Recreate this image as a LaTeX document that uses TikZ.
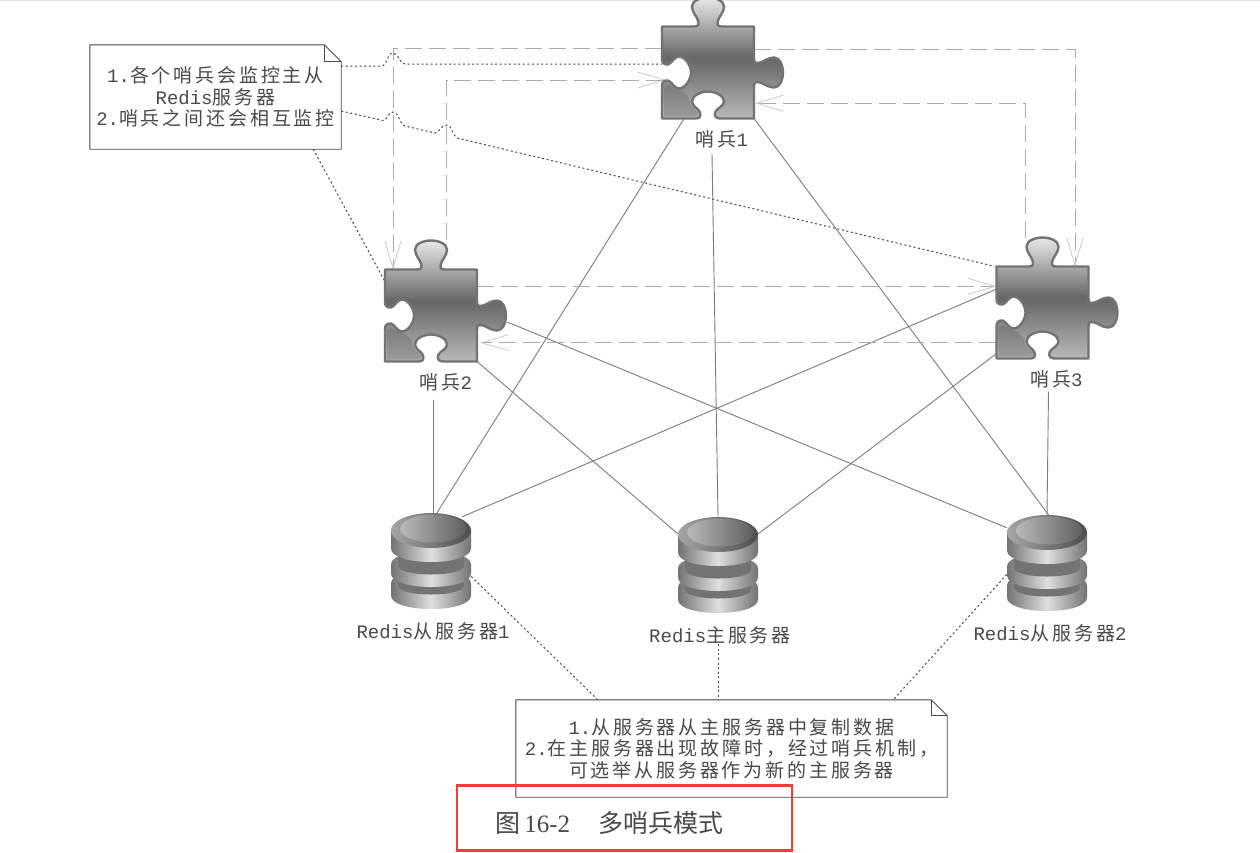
\documentclass[tikz,border=0pt]{standalone}
\usepackage{fontspec}
\usepackage{xcolor}
\usetikzlibrary{positioning, arrows.meta}
\setmainfont{Noto Sans CJK SC}[LetterSpace=15]
\newfontfamily\latfont{Liberation Mono}
\newfontfamily\capfont{Noto Sans CJK SC}
\newfontfamily\capnum{Liberation Serif}
\newcommand{\lat}[1]{{\latfont #1}}
\definecolor{inkgray}{HTML}{4A4A4A}
\definecolor{wiregray}{HTML}{7C7C7C}
\definecolor{dashgray}{HTML}{ABABAB}
\definecolor{notered}{HTML}{F23B3B}
\newcommand{\dbdisk}[5]{% half width, top, side height, bulge, centre colour
  \path[shading=axis,left color=gray!90!black,right color=gray!90!black,middle color=#5]
    (-#1,#2) -- (-#1,#2+#3) .. controls (-#1,#2+#3+#4) and (#1,#2+#3+#4) .. (#1,#2+#3)
    -- (#1,#2) .. controls (#1,#2-#4) and (-#1,#2-#4) .. (-#1,#2) -- cycle;
}
\tikzset{
  puzzle/.pic={
    \draw[line width=2.4pt,draw=gray!90!black,shading=axis,shading angle=14,
      top color=gray!18,bottom color=gray!55,middle color=gray!80!black,line join=round]
      (-46,-46) -- (-14,-46) .. controls (-9,-46) and (-9,-48) .. (-10,-52)
      .. controls (-11,-56) and (-16,-60) .. (-16,-66) .. controls (-16,-72) and (-7,-75) .. (0,-75)
      .. controls (7,-75) and (16,-72) .. (16,-66) .. controls (16,-60) and (11,-56) .. (10,-52)
      .. controls (9,-48) and (9,-46) .. (14,-46) -- (46,-46) -- (46,-14)
      .. controls (46,-9) and (48,-9) .. (52,-10) .. controls (56,-11) and (60,-15) .. (66,-15)
      .. controls (72,-15) and (75,-7) .. (75,0) .. controls (75,7) and (72,15) .. (66,15)
      .. controls (60,15) and (56,11) .. (52,10) .. controls (48,9) and (46,9) .. (46,14)
      -- (46,46) -- (13,46) .. controls (8,46) and (6,44) .. (7,40)
      .. controls (8,36) and (16,34) .. (16,29) .. controls (16,23) and (7,19) .. (0,19)
      .. controls (-7,19) and (-16,23) .. (-16,29) .. controls (-16,34) and (-9,36) .. (-8,40)
      .. controls (-7,44) and (-8,46) .. (-13,46) -- (-46,46) -- (-46,14)
      .. controls (-46,9) and (-44,8) .. (-40,8) .. controls (-36,9) and (-34,16) .. (-29,16)
      .. controls (-23,16) and (-17,7) .. (-17,0) .. controls (-17,-7) and (-23,-16) .. (-29,-16)
      .. controls (-34,-16) and (-36,-9) .. (-40,-8) .. controls (-44,-8) and (-46,-9) .. (-46,-14) -- cycle;
    \fill[gray!60!black,opacity=.25] (-44,15) .. controls (-38,9) and (-34,18) .. (-28,18)
      .. controls (-22,20) and (-19,24) .. (-18,30) .. controls (-18,35) and (-11,37) .. (-10,40)
      .. controls (-9,43) and (-11,44) .. (-14,44) -- (-44,44) -- cycle;
  },
  redisdb/.pic={
    \dbdisk{40}{22}{12}{18}{gray!25}
    \dbdisk{33}{14}{10}{12}{gray!90!black}
    \dbdisk{40}{3}{9}{18}{gray!25}
    \dbdisk{33}{-6}{10}{12}{gray!90!black}
    \dbdisk{40}{-31}{18}{18}{gray!25}
    \shade[left color=gray!70,right color=gray!60!black] (0,-31) ellipse [x radius=40,y radius=17.5];
    \shade[left color=gray!55,right color=gray!75!black] (2,-33) ellipse [x radius=33,y radius=14];
  }
}
\begin{document}
\begin{tikzpicture}[
    x=1pt, y=-1pt,
    every node/.style={inner sep=0pt, align=center, font=\fontsize{19}{21.5}\selectfont, text=inkgray},
    piece/.style={minimum width=92pt, minimum height=92pt},
    store/.style={minimum width=80pt, minimum height=97pt},
    memo/.style={minimum width=#1},
    wire/.style={draw=wiregray, line width=0.9pt},
    watch/.style={draw=dashgray, line width=0.9pt, dash pattern=on 17pt off 7pt,
      -{Straight Barb[length=27pt,width=16pt,line width=0.7pt,color=gray!45]}},
    dots/.style={draw=inkgray, line width=1pt, dash pattern=on 2pt off 2.6pt},
    memoline/.style={draw=inkgray, line width=0.9pt}
  ]
  \useasboundingbox (0,0) rectangle (1260,852);
  \fill[gray!1] (0,0) rectangle (1260,852);
  \fill[gray!20] (0,0) rectangle (1260,1.2);

  % sentinels and stores
  \node (s1) [piece] at (708,72.5) {};
  \node (s2) [piece] at (431,315.5) {};
  \node (s3) [piece] at (1042.5,312.5) {};
  \node (r1) [store] at (431,561.5) {};
  \node (r0) [store] at (718,565.5) {};
  \node (r2) [store] at (1047,563.5) {};

  \node (s1label) [below=12pt of s1, xshift=14pt] {哨兵\lat{1}};
  \node (s2label) [below=12pt of s2, xshift=15pt] {哨兵\lat{2}};
  \node (s3label) [below=12pt of s3, xshift=14pt] {哨兵\lat{3}};
  \node (r1label) [below=12pt of r1, xshift=2pt] {\lat{Redis}从服务器\lat{1}};
  \node (r0label) [below=12pt of r0, xshift=2pt] {\lat{Redis}主服务器};
  \node (r2label) [below=12pt of r2, xshift=3pt] {\lat{Redis}从服务器\lat{2}};

  % notes
  \node (n1) [memo=251pt, minimum height=104pt] at (215.5,97)
    {\lat{1.}各个哨兵会监控主从\\ \lat{Redis}服务器\\ \lat{2.}哨兵之间还会相互监控};
  \node (n2) [memo=431pt, minimum height=97pt] at (731.5,748.5)
    {\lat{1.}从服务器从主服务器中复制数据\\ \lat{2.}在主服务器出现故障时，经过哨兵机制，\\ 可选举从服务器作为新的主服务器};
  \draw[memoline] (n1.north west) -- ([xshift=-17pt]n1.north east) -- ([yshift=-17pt]n1.north east)
    -- (n1.south east) -- (n1.south west) -- cycle;
  \draw[memoline] ([xshift=-17pt]n1.north east) -- ([xshift=-17pt,yshift=-17pt]n1.north east) -- ([yshift=-17pt]n1.north east);
  \draw[memoline] (n2.north west) -- ([xshift=-16pt]n2.north east) -- ([yshift=-16pt]n2.north east)
    -- (n2.south east) -- (n2.south west) -- cycle;
  \draw[memoline] ([xshift=-16pt]n2.north east) -- ([xshift=-16pt,yshift=-16pt]n2.north east) -- ([yshift=-16pt]n2.north east);

  % sentinel to store
  \draw[wire] ([xshift=-24pt]s1.south) -- ([xshift=6pt]r1.north);
  \draw[wire] ([xshift=4pt,yshift=-35pt]s1.south) -- (r0.north);
  \draw[wire] (s1.south east) -- ([xshift=3pt,yshift=-2pt]r2.north);
  \draw[wire] ([xshift=2pt,yshift=-38pt]s2.south) -- ([xshift=2pt]r1.north);
  \draw[wire] (s2.south east) -- ([yshift=-17pt]r0.north west);
  \draw[wire] ([xshift=30pt,yshift=-6.5pt]s2.east) -- ([yshift=-13pt]r2.north west);
  \draw[wire] ([yshift=-23pt]s3.north west) -- ([xshift=31pt,yshift=-4pt]r1.north);
  \draw[wire] ([yshift=5pt]s3.south west) -- ([yshift=-17pt]r0.north east);
  \draw[wire] ([xshift=6pt,yshift=-33pt]s3.south) -- (r2.north);

  % sentinels watching each other
  \draw[watch] (s1.west |- 0,48) -| (s2.north west -| 393,0);
  \draw[watch] (s1.east |- 0,49.5) -| ([xshift=32.5pt]s3.north);
  \draw[watch] ([xshift=15.5pt,yshift=29pt]s2.north) |- ([xshift=4pt,yshift=-7.5pt]s1.west);
  \draw[watch] ([xshift=-17.5pt,yshift=28pt]s3.north) |- ([xshift=1pt,yshift=15.5pt]s1.south east);
  \draw[watch] ([yshift=-17pt]s2.north east) -- ([yshift=-20pt]s3.north west);
  \draw[watch] ([yshift=16pt]s3.south west) -- ([xshift=3pt,yshift=19pt]s2.south east);

  % notes to what they describe
  \draw[dots] ([yshift=31pt]n1.east) -- (381.5,66) .. controls (387,66) and (387,53) .. (393,53)
    .. controls (399,53) and (399,64) .. (405,64) -- ([yshift=8.5pt]s1.west);
  \draw[dots] ([yshift=-14pt]n1.east) -- (383,120.5) .. controls (387,121) and (388,112) .. (393,112)
    .. controls (399,112) and (399,124) .. (405,126) -- (435,133)
    .. controls (439,133) and (441,125) .. (446.5,125) .. controls (452,125) and (452,135) .. (457,138)
    -- ([xshift=-2pt]s3.north west);
  \draw[dots] ([xshift=-28pt]n1.south east) -- ([yshift=-12pt]s2.north west);
  \draw[dots] ([yshift=-15pt]r1.east) -- ([xshift=82pt]n2.north west);
  \draw[dots] (r0label.south -| r0) -- (r0 |- n2.north);
  \draw[dots] ([yshift=-11pt]r2.west) -- ([xshift=-54pt]n2.north east);

  % pieces on top of the lines
  \pic at (s1) {puzzle};
  \pic at (s2) {puzzle};
  \pic at (s3) {puzzle};
  \pic at (r1) {redisdb};
  \pic at (r0) {redisdb};
  \pic at (r2) {redisdb};

  % caption
  \node (caption) [font=\fontsize{25}{27}\selectfont, anchor=west] at (495,823)
    {\capfont 图\,{\capnum 16-2}\hspace{28pt}多哨兵模式};
  \node (captionbox) [draw=notered, line width=2.6pt, minimum width=335pt, minimum height=65pt] at (624.5,818) {};
\end{tikzpicture}
\end{document}
